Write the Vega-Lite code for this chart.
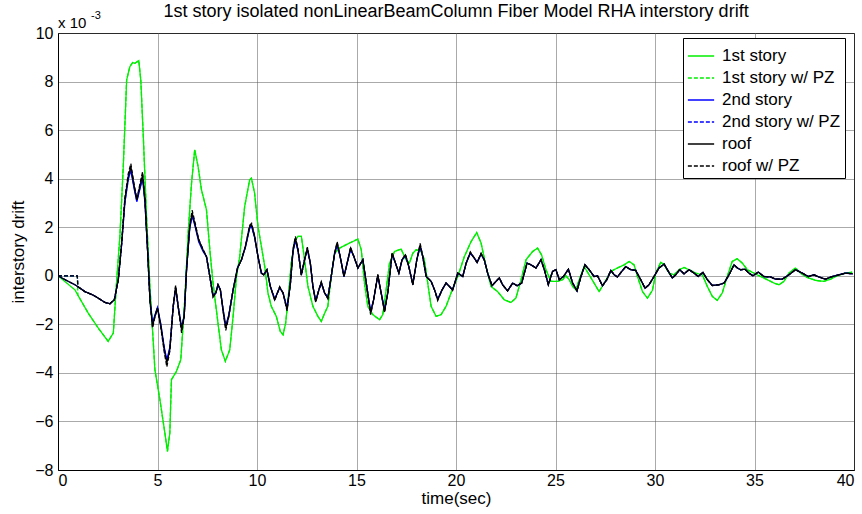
{
  "$schema": "https://vega.github.io/schema/vega-lite/v6.json",
  "width": 796,
  "height": 437,
  "autosize": "none",
  "padding": {"left": 58, "top": 33, "right": 8, "bottom": 44},
  "background": "white",
  "title": {"text": "1st story isolated nonLinearBeamColumn Fiber Model RHA interstory drift", "fontSize": 18, "fontWeight": "normal", "font": "Liberation Sans", "color": "#000", "offset": 5, "dy": 16},
  "config": {
    "font": "Liberation Sans",
    "view": {"stroke": "#000", "strokeWidth": 1},
    "axis": {"domainColor": "#000", "grid": true, "gridColor": "#555", "gridDash": [1, 1], "gridOpacity": 1, "ticks": false, "labelFontSize": 16, "labelColor": "#000", "titleFontSize": 17, "titleFontWeight": "normal", "titleColor": "#000", "labelFont": "Liberation Sans", "titleFont": "Liberation Sans"}
  },
  "datasets": {
    "green": [
      {"t": 0, "a": 0, "ap": 0},
      {"t": 0.85, "a": -0.58, "ap": 0},
      {"t": 0.97, "ap": 0},
      {"t": 1.0, "a": -0.8, "ap": -0.8},
      {"t": 1.52, "a": -1.54, "ap": -1.54},
      {"t": 2.02, "a": -2.15, "ap": -2.15},
      {"t": 2.52, "a": -2.7, "ap": -2.7},
      {"t": 2.78, "a": -2.36, "ap": -2.36},
      {"t": 2.94, "a": -0.3, "ap": -0.3},
      {"t": 3.11, "a": 1.62, "ap": 1.62},
      {"t": 3.28, "a": 4.5, "ap": 4.5},
      {"t": 3.45, "a": 8.07, "ap": 8.07},
      {"t": 3.61, "a": 8.61, "ap": 8.61},
      {"t": 3.75, "a": 8.78, "ap": 8.78},
      {"t": 3.86, "a": 8.75, "ap": 8.75},
      {"t": 4.06, "a": 8.86, "ap": 8.86},
      {"t": 4.16, "a": 8.07, "ap": 8.07},
      {"t": 4.28, "a": 5.87, "ap": 5.87},
      {"t": 4.45, "a": 2.44, "ap": 2.44},
      {"t": 4.61, "a": -0.3, "ap": -0.3},
      {"t": 4.87, "a": -3.87, "ap": -3.87},
      {"t": 5.12, "a": -5.1, "ap": -5.1},
      {"t": 5.37, "a": -6.47, "ap": -6.47},
      {"t": 5.5, "a": -7.23, "ap": -7.23},
      {"t": 5.62, "a": -6.47, "ap": -6.47},
      {"t": 5.7, "a": -4.28, "ap": -4.28},
      {"t": 5.95, "a": -3.94, "ap": -3.94},
      {"t": 6.17, "a": -3.46, "ap": -3.46},
      {"t": 6.37, "a": -0.99, "ap": -0.99},
      {"t": 6.54, "a": 1.76, "ap": 1.76},
      {"t": 6.71, "a": 3.81, "ap": 3.81},
      {"t": 6.87, "a": 5.19, "ap": 5.19},
      {"t": 7.04, "a": 4.5, "ap": 4.5},
      {"t": 7.21, "a": 3.54, "ap": 3.54},
      {"t": 7.46, "a": 2.72, "ap": 2.72},
      {"t": 7.63, "a": 1.07, "ap": 1.07},
      {"t": 7.79, "a": -0.3, "ap": -0.3},
      {"t": 8.04, "a": -1.95, "ap": -1.95},
      {"t": 8.21, "a": -3.05, "ap": -3.05},
      {"t": 8.41, "a": -3.52, "ap": -3.52},
      {"t": 8.63, "a": -3.05, "ap": -3.05},
      {"t": 8.8, "a": -1.67, "ap": -1.67},
      {"t": 8.97, "a": -0.03, "ap": -0.03},
      {"t": 9.13, "a": 0.79, "ap": 0.79},
      {"t": 9.38, "a": 2.85, "ap": 2.85},
      {"t": 9.63, "a": 3.95, "ap": 3.95},
      {"t": 9.72, "a": 4.02, "ap": 4.02},
      {"t": 9.88, "a": 3.4, "ap": 3.4},
      {"t": 10.05, "a": 2.03, "ap": 2.03},
      {"t": 10.22, "a": 1.21, "ap": 1.21},
      {"t": 10.39, "a": 0.38, "ap": 0.38},
      {"t": 10.55, "a": -0.71, "ap": -0.71},
      {"t": 10.72, "a": -1.26, "ap": -1.26},
      {"t": 10.97, "a": -1.67, "ap": -1.67},
      {"t": 11.17, "a": -2.29, "ap": -2.29},
      {"t": 11.31, "a": -2.43, "ap": -2.43},
      {"t": 11.44, "a": -1.95, "ap": -1.95},
      {"t": 11.56, "a": -0.99, "ap": -0.99},
      {"t": 11.72, "a": 0.52, "ap": 0.52},
      {"t": 11.89, "a": 1.41, "ap": 1.41},
      {"t": 12.06, "a": 1.62, "ap": 1.62},
      {"t": 12.23, "a": 1.62, "ap": 1.62},
      {"t": 12.39, "a": 0.66, "ap": 0.66},
      {"t": 12.56, "a": -0.44, "ap": -0.44},
      {"t": 12.81, "a": -1.26, "ap": -1.26},
      {"t": 13.06, "a": -1.67, "ap": -1.67},
      {"t": 13.23, "a": -1.88, "ap": -1.88},
      {"t": 13.4, "a": -1.54, "ap": -1.54},
      {"t": 13.56, "a": -1.26, "ap": -1.26},
      {"t": 13.73, "a": -0.03, "ap": -0.03},
      {"t": 13.9, "a": 0.93, "ap": 0.93},
      {"t": 14.15, "a": 1.14, "ap": 1.14},
      {"t": 14.65, "a": 1.35, "ap": 1.35},
      {"t": 15.07, "a": 1.51, "ap": 1.51},
      {"t": 15.24, "a": 1.07, "ap": 1.07},
      {"t": 15.4, "a": -0.3, "ap": -0.3},
      {"t": 15.57, "a": -1.26, "ap": -1.26},
      {"t": 15.82, "a": -1.6, "ap": -1.6},
      {"t": 16.16, "a": -1.81, "ap": -1.81},
      {"t": 16.32, "a": -1.6, "ap": -1.6},
      {"t": 16.49, "a": -0.58, "ap": -0.58},
      {"t": 16.66, "a": 0.52, "ap": 0.52},
      {"t": 16.91, "a": 1.0, "ap": 1.0},
      {"t": 17.24, "a": 1.1, "ap": 1.1},
      {"t": 17.49, "a": 0.66, "ap": 0.66},
      {"t": 17.66, "a": 0.52, "ap": 0.52},
      {"t": 17.83, "a": 0.93, "ap": 0.93},
      {"t": 18.0, "a": 1.07, "ap": 1.07},
      {"t": 18.25, "a": 1.0, "ap": 1.0},
      {"t": 18.41, "a": 0.66, "ap": 0.66},
      {"t": 18.58, "a": -0.3, "ap": -0.3},
      {"t": 18.75, "a": -1.26, "ap": -1.26},
      {"t": 19.0, "a": -1.67, "ap": -1.67},
      {"t": 19.25, "a": -1.6, "ap": -1.6},
      {"t": 19.5, "a": -1.26, "ap": -1.26},
      {"t": 19.75, "a": -0.71, "ap": -0.71},
      {"t": 20.09, "a": -0.03, "ap": -0.03},
      {"t": 20.42, "a": 0.79, "ap": 0.79},
      {"t": 20.76, "a": 1.41, "ap": 1.41},
      {"t": 21.04, "a": 1.78, "ap": 1.78},
      {"t": 21.26, "a": 1.35, "ap": 1.35},
      {"t": 21.51, "a": 0.38, "ap": 0.38},
      {"t": 21.76, "a": -0.44, "ap": -0.44},
      {"t": 22.09, "a": -0.65, "ap": -0.65},
      {"t": 22.43, "a": -0.99, "ap": -0.99},
      {"t": 22.76, "a": -1.1, "ap": -1.1},
      {"t": 23.01, "a": -0.92, "ap": -0.92},
      {"t": 23.27, "a": -0.16, "ap": -0.16},
      {"t": 23.52, "a": 0.66, "ap": 0.66},
      {"t": 23.85, "a": 1.0, "ap": 1.0},
      {"t": 24.1, "a": 1.14, "ap": 1.14},
      {"t": 24.3, "a": 0.86, "ap": 0.86},
      {"t": 24.52, "a": 0.25, "ap": 0.25},
      {"t": 24.77, "a": -0.23, "ap": -0.23},
      {"t": 25.11, "a": -0.23, "ap": -0.23},
      {"t": 25.36, "a": -0.16, "ap": -0.16},
      {"t": 25.52, "a": 0.0, "ap": 0.0},
      {"t": 25.69, "a": -0.16, "ap": -0.16},
      {"t": 25.86, "a": -0.44, "ap": -0.44},
      {"t": 26.03, "a": -0.58, "ap": -0.58},
      {"t": 26.19, "a": -0.16, "ap": -0.16},
      {"t": 26.44, "a": 0.38, "ap": 0.38},
      {"t": 26.69, "a": 0.04, "ap": 0.04},
      {"t": 26.94, "a": -0.3, "ap": -0.3},
      {"t": 27.19, "a": -0.65, "ap": -0.65},
      {"t": 27.45, "a": -0.3, "ap": -0.3},
      {"t": 27.78, "a": 0.18, "ap": 0.18},
      {"t": 28.11, "a": 0.32, "ap": 0.32},
      {"t": 28.45, "a": 0.45, "ap": 0.45},
      {"t": 28.7, "a": 0.59, "ap": 0.59},
      {"t": 28.95, "a": 0.45, "ap": 0.45},
      {"t": 29.12, "a": -0.03, "ap": -0.03},
      {"t": 29.37, "a": -0.65, "ap": -0.65},
      {"t": 29.62, "a": -0.92, "ap": -0.92},
      {"t": 29.87, "a": -0.6, "ap": -0.6},
      {"t": 30.04, "a": 0.11, "ap": 0.11},
      {"t": 30.29, "a": 0.56, "ap": 0.56},
      {"t": 30.46, "a": 0.45, "ap": 0.45},
      {"t": 30.71, "a": 0.11, "ap": 0.11},
      {"t": 30.96, "a": 0.04, "ap": 0.04},
      {"t": 31.21, "a": 0.25, "ap": 0.25},
      {"t": 31.46, "a": 0.34, "ap": 0.34},
      {"t": 31.71, "a": 0.25, "ap": 0.25},
      {"t": 32.05, "a": 0.11, "ap": 0.11},
      {"t": 32.38, "a": 0.04, "ap": 0.04},
      {"t": 32.63, "a": -0.44, "ap": -0.44},
      {"t": 32.88, "a": -0.85, "ap": -0.85},
      {"t": 33.13, "a": -1.01, "ap": -1.01},
      {"t": 33.38, "a": -0.71, "ap": -0.71},
      {"t": 33.63, "a": -0.03, "ap": -0.03},
      {"t": 33.88, "a": 0.59, "ap": 0.59},
      {"t": 34.13, "a": 0.7, "ap": 0.7},
      {"t": 34.39, "a": 0.52, "ap": 0.52},
      {"t": 34.64, "a": 0.25, "ap": 0.25},
      {"t": 34.97, "a": 0.11, "ap": 0.11},
      {"t": 35.31, "a": -0.03, "ap": -0.03},
      {"t": 35.64, "a": -0.16, "ap": -0.16},
      {"t": 35.98, "a": -0.3, "ap": -0.3},
      {"t": 36.23, "a": -0.37, "ap": -0.37},
      {"t": 36.48, "a": -0.23, "ap": -0.23},
      {"t": 36.73, "a": 0.11, "ap": 0.11},
      {"t": 37.06, "a": 0.32, "ap": 0.32},
      {"t": 37.31, "a": 0.11, "ap": 0.11},
      {"t": 37.65, "a": -0.07, "ap": -0.07},
      {"t": 38.07, "a": -0.19, "ap": -0.19},
      {"t": 38.48, "a": -0.23, "ap": -0.23},
      {"t": 38.82, "a": -0.14, "ap": -0.14},
      {"t": 39.15, "a": 0.0, "ap": 0.0},
      {"t": 39.57, "a": 0.11, "ap": 0.11},
      {"t": 39.91, "a": 0.15, "ap": 0.15}
    ],
    "black": [
      {"t": 0, "b": 0, "bp": 0, "r": 0, "rp": 0},
      {"t": 0.35, "b": -0.16, "bp": 0, "r": -0.16, "rp": 0},
      {"t": 0.85, "b": -0.37, "bp": 0, "r": -0.37, "rp": 0},
      {"t": 0.97, "bp": 0, "rp": 0},
      {"t": 1.0, "b": -0.45, "bp": -0.45, "r": -0.45, "rp": -0.45},
      {"t": 1.35, "b": -0.65, "bp": -0.65, "r": -0.65, "rp": -0.65},
      {"t": 1.77, "b": -0.8, "bp": -0.8, "r": -0.8, "rp": -0.8},
      {"t": 2.02, "b": -0.92, "bp": -0.92, "r": -0.92, "rp": -0.92},
      {"t": 2.36, "b": -1.1, "bp": -1.1, "r": -1.1, "rp": -1.1},
      {"t": 2.61, "b": -1.15, "bp": -1.15, "r": -1.15, "rp": -1.15},
      {"t": 2.83, "b": -0.99, "bp": -0.99, "r": -0.99, "rp": -0.99},
      {"t": 3.03, "b": -0.16, "bp": -0.16, "r": -0.16, "rp": -0.16},
      {"t": 3.2, "b": 1.3, "bp": 1.32, "r": 1.35, "rp": 1.38},
      {"t": 3.36, "b": 3.0, "bp": 3.05, "r": 3.13, "rp": 3.2},
      {"t": 3.53, "b": 3.95, "bp": 4.0, "r": 4.09, "rp": 4.2},
      {"t": 3.66, "b": 4.35, "bp": 4.4, "r": 4.5, "rp": 4.62},
      {"t": 3.8, "b": 3.7, "bp": 3.75, "r": 3.81, "rp": 3.9},
      {"t": 3.96, "b": 3.05, "bp": 3.1, "r": 3.13, "rp": 3.15},
      {"t": 4.11, "b": 3.55, "bp": 3.6, "r": 3.67, "rp": 3.75},
      {"t": 4.25, "b": 4.0, "bp": 4.05, "r": 4.16, "rp": 4.28},
      {"t": 4.37, "b": 3.0, "bp": 3.05, "r": 3.13, "rp": 3.2},
      {"t": 4.5, "b": 1.07, "bp": 1.07, "r": 1.07, "rp": 1.07},
      {"t": 4.62, "b": -0.95, "bp": -0.97, "r": -0.99, "rp": -1.02},
      {"t": 4.75, "b": -1.95, "bp": -2.0, "r": -2.08, "rp": -2.15},
      {"t": 4.87, "b": -1.62, "bp": -1.65, "r": -1.67, "rp": -1.7},
      {"t": 5.0, "b": -1.3, "bp": -1.32, "r": -1.33, "rp": -1.35},
      {"t": 5.17, "b": -2.0, "bp": -2.05, "r": -2.08, "rp": -2.15},
      {"t": 5.34, "b": -2.95, "bp": -3.0, "r": -3.05, "rp": -3.15},
      {"t": 5.47, "b": -3.45, "bp": -3.5, "r": -3.59, "rp": -3.75},
      {"t": 5.62, "b": -2.95, "bp": -3.0, "r": -3.05, "rp": -3.1},
      {"t": 5.79, "b": -1.26, "bp": -1.26, "r": -1.26, "rp": -1.26},
      {"t": 5.91, "b": -0.55, "bp": -0.5, "r": -0.44, "rp": -0.4},
      {"t": 6.04, "b": -1.26, "bp": -1.26, "r": -1.26, "rp": -1.3},
      {"t": 6.21, "b": -2.1, "bp": -2.15, "r": -2.22, "rp": -2.35},
      {"t": 6.34, "b": -1.67, "bp": -1.67, "r": -1.67, "rp": -1.7},
      {"t": 6.46, "b": 0.25, "bp": 0.25, "r": 0.25, "rp": 0.25},
      {"t": 6.62, "b": 1.95, "bp": 2.0, "r": 2.03, "rp": 2.1},
      {"t": 6.74, "b": 2.45, "bp": 2.5, "r": 2.58, "rp": 2.7},
      {"t": 6.87, "b": 2.1, "bp": 2.15, "r": 2.17, "rp": 2.25},
      {"t": 7.07, "b": 1.4, "bp": 1.45, "r": 1.48, "rp": 1.5},
      {"t": 7.29, "b": 1.0, "bp": 1.05, "r": 1.07, "rp": 1.08},
      {"t": 7.46, "b": 0.79, "bp": 0.79, "r": 0.79, "rp": 0.79},
      {"t": 7.63, "b": -0.03, "bp": -0.03, "r": -0.03, "rp": -0.03},
      {"t": 7.79, "b": -0.8, "bp": -0.82, "r": -0.85, "rp": -0.88},
      {"t": 7.93, "b": -0.71, "bp": -0.71, "r": -0.71, "rp": -0.71},
      {"t": 8.04, "b": -0.37, "bp": -0.37, "r": -0.37, "rp": -0.37},
      {"t": 8.16, "b": -0.58, "bp": -0.58, "r": -0.58, "rp": -0.58},
      {"t": 8.29, "b": -1.35, "bp": -1.38, "r": -1.4, "rp": -1.42},
      {"t": 8.43, "b": -2.05, "bp": -2.1, "r": -2.15, "rp": -2.25},
      {"t": 8.58, "b": -1.62, "bp": -1.65, "r": -1.67, "rp": -1.7},
      {"t": 8.8, "b": -0.58, "bp": -0.58, "r": -0.58, "rp": -0.58},
      {"t": 9.02, "b": 0.32, "bp": 0.32, "r": 0.32, "rp": 0.32},
      {"t": 9.22, "b": 0.66, "bp": 0.66, "r": 0.66, "rp": 0.66},
      {"t": 9.42, "b": 1.18, "bp": 1.2, "r": 1.21, "rp": 1.22},
      {"t": 9.63, "b": 1.95, "bp": 2.0, "r": 2.03, "rp": 2.08},
      {"t": 9.73, "b": 2.02, "bp": 2.05, "r": 2.1, "rp": 2.16},
      {"t": 9.88, "b": 1.58, "bp": 1.6, "r": 1.62, "rp": 1.65},
      {"t": 10.05, "b": 0.79, "bp": 0.79, "r": 0.79, "rp": 0.79},
      {"t": 10.22, "b": 0.11, "bp": 0.11, "r": 0.11, "rp": 0.11},
      {"t": 10.34, "b": 0.04, "bp": 0.04, "r": 0.04, "rp": 0.04},
      {"t": 10.5, "b": 0.25, "bp": 0.25, "r": 0.25, "rp": 0.25},
      {"t": 10.67, "b": -0.44, "bp": -0.44, "r": -0.44, "rp": -0.44},
      {"t": 10.89, "b": -0.95, "bp": -0.97, "r": -0.99, "rp": -1.02},
      {"t": 11.14, "b": -0.5, "bp": -0.48, "r": -0.47, "rp": -0.45},
      {"t": 11.31, "b": -0.71, "bp": -0.71, "r": -0.71, "rp": -0.71},
      {"t": 11.51, "b": -1.32, "bp": -1.36, "r": -1.4, "rp": -1.45},
      {"t": 11.68, "b": -0.3, "bp": -0.3, "r": -0.3, "rp": -0.3},
      {"t": 11.81, "b": 1.0, "bp": 1.03, "r": 1.07, "rp": 1.1},
      {"t": 11.93, "b": 1.45, "bp": 1.5, "r": 1.55, "rp": 1.62},
      {"t": 12.06, "b": 1.02, "bp": 1.05, "r": 1.07, "rp": 1.1},
      {"t": 12.23, "b": 0.04, "bp": 0.04, "r": 0.04, "rp": 0.02},
      {"t": 12.39, "b": 0.66, "bp": 0.66, "r": 0.66, "rp": 0.66},
      {"t": 12.53, "b": 1.08, "bp": 1.1, "r": 1.14, "rp": 1.18},
      {"t": 12.68, "b": 0.52, "bp": 0.52, "r": 0.52, "rp": 0.52},
      {"t": 12.81, "b": -0.44, "bp": -0.44, "r": -0.44, "rp": -0.44},
      {"t": 12.95, "b": -1.0, "bp": -1.03, "r": -1.06, "rp": -1.1},
      {"t": 13.11, "b": -0.58, "bp": -0.58, "r": -0.58, "rp": -0.58},
      {"t": 13.23, "b": -0.3, "bp": -0.29, "r": -0.27, "rp": -0.25},
      {"t": 13.4, "b": -0.71, "bp": -0.71, "r": -0.71, "rp": -0.71},
      {"t": 13.56, "b": -0.9, "bp": -0.91, "r": -0.92, "rp": -0.95},
      {"t": 13.73, "b": -0.03, "bp": -0.03, "r": -0.03, "rp": -0.03},
      {"t": 13.9, "b": 0.9, "bp": 0.92, "r": 0.93, "rp": 0.95},
      {"t": 14.03, "b": 1.25, "bp": 1.3, "r": 1.35, "rp": 1.4},
      {"t": 14.18, "b": 0.79, "bp": 0.79, "r": 0.79, "rp": 0.79},
      {"t": 14.37, "b": -0.03, "bp": -0.03, "r": -0.03, "rp": -0.03},
      {"t": 14.53, "b": 0.52, "bp": 0.52, "r": 0.52, "rp": 0.52},
      {"t": 14.7, "b": 1.08, "bp": 1.1, "r": 1.14, "rp": 1.18},
      {"t": 14.87, "b": 0.79, "bp": 0.79, "r": 0.79, "rp": 0.79},
      {"t": 15.07, "b": 0.32, "bp": 0.32, "r": 0.32, "rp": 0.32},
      {"t": 15.32, "b": 0.66, "bp": 0.66, "r": 0.66, "rp": 0.66},
      {"t": 15.49, "b": -0.3, "bp": -0.3, "r": -0.3, "rp": -0.3},
      {"t": 15.71, "b": -1.45, "bp": -1.5, "r": -1.54, "rp": -1.6},
      {"t": 15.86, "b": -0.99, "bp": -0.99, "r": -0.99, "rp": -0.99},
      {"t": 16.07, "b": 0.0, "bp": 0.02, "r": 0.04, "rp": 0.06},
      {"t": 16.24, "b": -0.71, "bp": -0.71, "r": -0.71, "rp": -0.71},
      {"t": 16.41, "b": -1.38, "bp": -1.42, "r": -1.47, "rp": -1.52},
      {"t": 16.57, "b": -0.71, "bp": -0.71, "r": -0.71, "rp": -0.71},
      {"t": 16.79, "b": 0.88, "bp": 0.9, "r": 0.93, "rp": 0.96},
      {"t": 16.96, "b": 0.52, "bp": 0.52, "r": 0.52, "rp": 0.52},
      {"t": 17.13, "b": 0.11, "bp": 0.11, "r": 0.11, "rp": 0.11},
      {"t": 17.29, "b": 0.66, "bp": 0.66, "r": 0.66, "rp": 0.66},
      {"t": 17.46, "b": 0.82, "bp": 0.84, "r": 0.86, "rp": 0.88},
      {"t": 17.63, "b": 0.38, "bp": 0.38, "r": 0.38, "rp": 0.38},
      {"t": 17.83, "b": -0.35, "bp": -0.36, "r": -0.37, "rp": -0.38},
      {"t": 18.03, "b": 0.66, "bp": 0.66, "r": 0.66, "rp": 0.66},
      {"t": 18.2, "b": 1.18, "bp": 1.22, "r": 1.28, "rp": 1.33},
      {"t": 18.33, "b": 0.79, "bp": 0.79, "r": 0.79, "rp": 0.79},
      {"t": 18.5, "b": -0.03, "bp": -0.03, "r": -0.03, "rp": -0.03},
      {"t": 18.75, "b": -0.23, "bp": -0.23, "r": -0.23, "rp": -0.23},
      {"t": 18.92, "b": -0.58, "bp": -0.58, "r": -0.58, "rp": -0.58},
      {"t": 19.08, "b": -0.95, "bp": -0.97, "r": -0.99, "rp": -1.02},
      {"t": 19.3, "b": -0.58, "bp": -0.58, "r": -0.58, "rp": -0.58},
      {"t": 19.5, "b": -0.3, "bp": -0.3, "r": -0.3, "rp": -0.3},
      {"t": 19.67, "b": -0.44, "bp": -0.44, "r": -0.44, "rp": -0.44},
      {"t": 19.83, "b": -0.58, "bp": -0.58, "r": -0.58, "rp": -0.6},
      {"t": 20.09, "b": 0.11, "bp": 0.11, "r": 0.11, "rp": 0.11},
      {"t": 20.34, "b": -0.03, "bp": -0.03, "r": -0.03, "rp": -0.03},
      {"t": 20.51, "b": 0.52, "bp": 0.52, "r": 0.52, "rp": 0.52},
      {"t": 20.72, "b": 0.92, "bp": 0.94, "r": 0.96, "rp": 0.98},
      {"t": 20.92, "b": 0.73, "bp": 0.73, "r": 0.73, "rp": 0.73},
      {"t": 21.06, "b": 0.55, "bp": 0.55, "r": 0.55, "rp": 0.55},
      {"t": 21.26, "b": 0.88, "bp": 0.9, "r": 0.91, "rp": 0.93},
      {"t": 21.42, "b": 0.66, "bp": 0.66, "r": 0.66, "rp": 0.66},
      {"t": 21.59, "b": 0.11, "bp": 0.11, "r": 0.11, "rp": 0.11},
      {"t": 21.81, "b": -0.41, "bp": -0.41, "r": -0.41, "rp": -0.41},
      {"t": 22.01, "b": -0.23, "bp": -0.23, "r": -0.23, "rp": -0.23},
      {"t": 22.18, "b": -0.09, "bp": -0.09, "r": -0.09, "rp": -0.09},
      {"t": 22.34, "b": -0.37, "bp": -0.37, "r": -0.37, "rp": -0.37},
      {"t": 22.59, "b": -0.62, "bp": -0.62, "r": -0.62, "rp": -0.62},
      {"t": 22.85, "b": -0.3, "bp": -0.3, "r": -0.3, "rp": -0.3},
      {"t": 23.07, "b": -0.41, "bp": -0.41, "r": -0.41, "rp": -0.41},
      {"t": 23.3, "b": -0.3, "bp": -0.3, "r": -0.3, "rp": -0.3},
      {"t": 23.57, "b": 0.52, "bp": 0.52, "r": 0.52, "rp": 0.52},
      {"t": 23.77, "b": 0.45, "bp": 0.45, "r": 0.45, "rp": 0.45},
      {"t": 24.02, "b": 0.32, "bp": 0.32, "r": 0.32, "rp": 0.32},
      {"t": 24.27, "b": 0.66, "bp": 0.66, "r": 0.66, "rp": 0.66},
      {"t": 24.44, "b": 0.25, "bp": 0.25, "r": 0.25, "rp": 0.25},
      {"t": 24.64, "b": -0.37, "bp": -0.37, "r": -0.37, "rp": -0.37},
      {"t": 24.85, "b": 0.18, "bp": 0.18, "r": 0.18, "rp": 0.18},
      {"t": 25.02, "b": 0.25, "bp": 0.25, "r": 0.25, "rp": 0.25},
      {"t": 25.19, "b": -0.16, "bp": -0.16, "r": -0.16, "rp": -0.16},
      {"t": 25.4, "b": -0.03, "bp": -0.03, "r": -0.03, "rp": -0.03},
      {"t": 25.65, "b": 0.27, "bp": 0.27, "r": 0.27, "rp": 0.27},
      {"t": 25.86, "b": -0.3, "bp": -0.3, "r": -0.3, "rp": -0.3},
      {"t": 26.08, "b": -0.62, "bp": -0.62, "r": -0.62, "rp": -0.62},
      {"t": 26.28, "b": -0.03, "bp": -0.03, "r": -0.03, "rp": -0.03},
      {"t": 26.48, "b": 0.45, "bp": 0.45, "r": 0.45, "rp": 0.45},
      {"t": 26.69, "b": 0.25, "bp": 0.25, "r": 0.25, "rp": 0.25},
      {"t": 26.94, "b": -0.03, "bp": -0.03, "r": -0.03, "rp": -0.03},
      {"t": 27.11, "b": 0.0, "bp": 0.0, "r": 0.0, "rp": 0.0},
      {"t": 27.36, "b": -0.41, "bp": -0.41, "r": -0.41, "rp": -0.41},
      {"t": 27.58, "b": -0.16, "bp": -0.16, "r": -0.16, "rp": -0.16},
      {"t": 27.78, "b": 0.22, "bp": 0.22, "r": 0.22, "rp": 0.22},
      {"t": 27.95, "b": 0.04, "bp": 0.04, "r": 0.04, "rp": 0.04},
      {"t": 28.11, "b": -0.05, "bp": -0.05, "r": -0.05, "rp": -0.05},
      {"t": 28.33, "b": 0.18, "bp": 0.18, "r": 0.18, "rp": 0.18},
      {"t": 28.53, "b": 0.38, "bp": 0.38, "r": 0.38, "rp": 0.38},
      {"t": 28.78, "b": 0.25, "bp": 0.25, "r": 0.25, "rp": 0.25},
      {"t": 29.03, "b": 0.22, "bp": 0.22, "r": 0.22, "rp": 0.22},
      {"t": 29.28, "b": -0.16, "bp": -0.16, "r": -0.16, "rp": -0.16},
      {"t": 29.5, "b": -0.51, "bp": -0.51, "r": -0.51, "rp": -0.51},
      {"t": 29.7, "b": -0.37, "bp": -0.37, "r": -0.37, "rp": -0.37},
      {"t": 29.95, "b": -0.03, "bp": -0.03, "r": -0.03, "rp": -0.03},
      {"t": 30.2, "b": 0.32, "bp": 0.32, "r": 0.32, "rp": 0.32},
      {"t": 30.46, "b": 0.48, "bp": 0.48, "r": 0.48, "rp": 0.48},
      {"t": 30.67, "b": 0.18, "bp": 0.18, "r": 0.18, "rp": 0.18},
      {"t": 30.87, "b": -0.09, "bp": -0.09, "r": -0.09, "rp": -0.09},
      {"t": 31.04, "b": 0.04, "bp": 0.04, "r": 0.04, "rp": 0.04},
      {"t": 31.24, "b": 0.25, "bp": 0.25, "r": 0.25, "rp": 0.25},
      {"t": 31.46, "b": 0.08, "bp": 0.08, "r": 0.08, "rp": 0.08},
      {"t": 31.71, "b": 0.25, "bp": 0.25, "r": 0.25, "rp": 0.25},
      {"t": 31.96, "b": 0.11, "bp": 0.11, "r": 0.11, "rp": 0.11},
      {"t": 32.17, "b": -0.03, "bp": -0.03, "r": -0.03, "rp": -0.03},
      {"t": 32.41, "b": 0.14, "bp": 0.14, "r": 0.14, "rp": 0.14},
      {"t": 32.63, "b": -0.16, "bp": -0.16, "r": -0.16, "rp": -0.16},
      {"t": 32.88, "b": -0.4, "bp": -0.4, "r": -0.4, "rp": -0.4},
      {"t": 33.21, "b": -0.37, "bp": -0.37, "r": -0.37, "rp": -0.37},
      {"t": 33.47, "b": -0.3, "bp": -0.3, "r": -0.3, "rp": -0.3},
      {"t": 33.72, "b": 0.04, "bp": 0.04, "r": 0.04, "rp": 0.04},
      {"t": 33.97, "b": 0.45, "bp": 0.45, "r": 0.45, "rp": 0.45},
      {"t": 34.14, "b": 0.32, "bp": 0.32, "r": 0.32, "rp": 0.32},
      {"t": 34.3, "b": 0.25, "bp": 0.25, "r": 0.25, "rp": 0.25},
      {"t": 34.52, "b": 0.27, "bp": 0.27, "r": 0.27, "rp": 0.27},
      {"t": 34.72, "b": 0.11, "bp": 0.11, "r": 0.11, "rp": 0.11},
      {"t": 34.92, "b": 0.0, "bp": 0.0, "r": 0.0, "rp": 0.0},
      {"t": 35.19, "b": 0.15, "bp": 0.15, "r": 0.15, "rp": 0.15},
      {"t": 35.47, "b": -0.03, "bp": -0.03, "r": -0.03, "rp": -0.03},
      {"t": 35.81, "b": -0.05, "bp": -0.05, "r": -0.05, "rp": -0.05},
      {"t": 36.06, "b": -0.14, "bp": -0.14, "r": -0.14, "rp": -0.14},
      {"t": 36.39, "b": -0.14, "bp": -0.14, "r": -0.14, "rp": -0.14},
      {"t": 36.73, "b": 0.04, "bp": 0.04, "r": 0.04, "rp": 0.04},
      {"t": 37.06, "b": 0.25, "bp": 0.25, "r": 0.25, "rp": 0.25},
      {"t": 37.4, "b": 0.11, "bp": 0.11, "r": 0.11, "rp": 0.11},
      {"t": 37.7, "b": -0.03, "bp": -0.03, "r": -0.03, "rp": -0.03},
      {"t": 37.99, "b": 0.04, "bp": 0.04, "r": 0.04, "rp": 0.04},
      {"t": 38.24, "b": -0.05, "bp": -0.05, "r": -0.05, "rp": -0.05},
      {"t": 38.57, "b": -0.14, "bp": -0.14, "r": -0.14, "rp": -0.14},
      {"t": 38.91, "b": -0.03, "bp": -0.03, "r": -0.03, "rp": -0.03},
      {"t": 39.24, "b": 0.04, "bp": 0.04, "r": 0.04, "rp": 0.04},
      {"t": 39.57, "b": 0.11, "bp": 0.11, "r": 0.11, "rp": 0.11},
      {"t": 39.94, "b": 0.08, "bp": 0.08, "r": 0.08, "rp": 0.08}
    ],
    "labels": [
      {"t": 0, "v": 10, "txt": "x 10", "sup": "-3"}
    ]
  },
  "layer": [
    {
      "data": {"name": "green"},
      "transform": [{"fold": ["a", "ap"], "as": ["key", "v"]}, {"filter": "isValid(datum.v)"}],
      "mark": {"type": "line", "strokeWidth": 1.3, "clip": true},
      "encoding": {
        "x": {"field": "t", "type": "quantitative", "scale": {"domain": [0, 40], "nice": false, "zero": false}, "axis": {"values": [0, 5, 10, 15, 20, 25, 30, 35, 40], "title": "time(sec)", "labelPadding": 2, "titlePadding": 2}},
        "y": {"field": "v", "type": "quantitative", "scale": {"domain": [-8, 10], "nice": false}, "axis": {"values": [-8, -6, -4, -2, 0, 2, 4, 6, 8, 10], "title": "interstory drift", "labelPadding": 5, "titlePadding": 7}},
        "color": {"field": "key", "type": "nominal", "scale": {"domain": ["a", "ap", "b", "bp", "r", "rp"], "range": ["#00ee00", "#00ee00", "#0000ff", "#0000ff", "#000000", "#000000"]}, "legend": {"title": null, "orient": "none", "legendX": 625, "legendY": 5, "symbolType": "stroke", "symbolStrokeWidth": 1.3, "symbolSize": 690, "labelFontSize": 17, "labelFont": "Liberation Sans", "labelColor": "#000", "strokeColor": "#000", "fillColor": "#fff", "padding": 4, "rowPadding": 0, "labelOffset": 7, "labelExpr": "datum.label == 'a' ? '1st story' : datum.label == 'ap' ? '1st story w/ PZ' : datum.label == 'b' ? '2nd story' : datum.label == 'bp' ? '2nd story w/ PZ' : datum.label == 'r' ? 'roof' : 'roof w/ PZ'"}},
        "strokeDash": {"field": "key", "type": "nominal", "scale": {"domain": ["a", "ap", "b", "bp", "r", "rp"], "range": [[1, 0], [4, 2], [1, 0], [4, 2], [1, 0], [4, 2]]}, "legend": {"title": null, "orient": "none", "legendX": 625, "legendY": 5, "symbolType": "stroke", "symbolStrokeWidth": 1.3, "symbolSize": 690, "labelFontSize": 17, "labelFont": "Liberation Sans", "labelColor": "#000", "strokeColor": "#000", "fillColor": "#fff", "padding": 4, "rowPadding": 0, "labelOffset": 7, "labelExpr": "datum.label == 'a' ? '1st story' : datum.label == 'ap' ? '1st story w/ PZ' : datum.label == 'b' ? '2nd story' : datum.label == 'bp' ? '2nd story w/ PZ' : datum.label == 'r' ? 'roof' : 'roof w/ PZ'"}}
      }
    },
    {
      "data": {"name": "black"},
      "transform": [{"fold": ["b", "bp", "r", "rp"], "as": ["key", "v"]}, {"filter": "isValid(datum.v)"}],
      "mark": {"type": "line", "strokeWidth": 1.3, "clip": true},
      "encoding": {
        "x": {"field": "t", "type": "quantitative"},
        "y": {"field": "v", "type": "quantitative"},
        "color": {"field": "key", "type": "nominal"},
        "strokeDash": {"field": "key", "type": "nominal"}
      }
    },
    {
      "data": {"name": "labels"},
      "mark": {"type": "text", "align": "left", "baseline": "alphabetic", "dx": 0, "dy": -5, "fontSize": 15, "font": "Liberation Sans", "color": "#000"},
      "encoding": {"x": {"field": "t", "type": "quantitative"}, "y": {"field": "v", "type": "quantitative"}, "text": {"field": "txt"}}
    },
    {
      "data": {"name": "labels"},
      "mark": {"type": "text", "align": "left", "baseline": "alphabetic", "dx": 33, "dy": -14, "fontSize": 11, "font": "Liberation Sans", "color": "#000"},
      "encoding": {"x": {"field": "t", "type": "quantitative"}, "y": {"field": "v", "type": "quantitative"}, "text": {"field": "sup"}}
    }
  ]
}
